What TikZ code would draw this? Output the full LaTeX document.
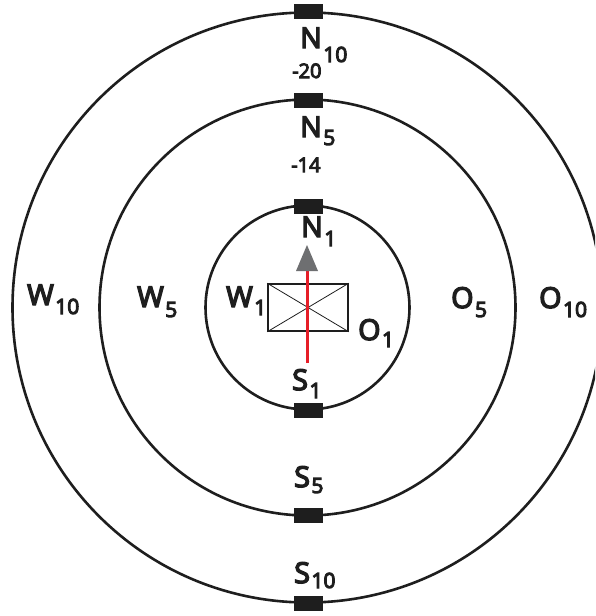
\documentclass[tikz,border=0pt]{standalone}
\usepackage{fontspec}
\setmainfont{Open Sans}
\newfontfamily\lblfont{Open Sans}[FakeBold=5]
\newcommand\lab[3]{#1\kern1.5pt\raisebox{-#3pt}{\fontsize{21}{21}\selectfont #2}}
\begin{document}
\begin{tikzpicture}[x=1pt,y=-1pt,
  ring/.style={draw={rgb,255:red,30;green,30;blue,30},line width=2.6pt},
  bar/.style={fill={rgb,255:red,30;green,30;blue,30},draw=none,minimum width=29pt,minimum height=15pt,inner sep=0pt},
  lbl/.style={anchor=base west,inner sep=0pt,text={rgb,255:red,30;green,30;blue,30},font=\lblfont\fontsize{28.7}{30}\selectfont},
  num/.style={anchor=base west,inner sep=0pt,text={rgb,255:red,30;green,30;blue,30},font=\lblfont\fontsize{20}{22}\selectfont}]
\useasboundingbox (0,0) rectangle (595,616);
\clip (0,0) rectangle (595,616);
\fill[white] (0,0) rectangle (595,616);
\coordinate (c) at (307.5,307.5);
\draw[ring] (c) circle[radius=295pt];
\draw[ring] (c) circle[radius=208pt];
\draw[ring] (c) circle[radius=102pt];
\node[bar] (b10n) at (308,11.5) {};
\node[bar] (b5n) at (308,100) {};
\node[bar] (b1n) at (308,206) {};
\node[bar] (b1s) at (308,410) {};
\node[bar] (b5s) at (308,515.5) {};
\node[bar] (b10s) at (308,603) {};
% box
\node[draw={rgb,255:red,30;green,30;blue,30},line width=1.6pt,minimum width=80pt,minimum height=47pt,inner sep=0pt] (box) at (308,307.5) {};
\draw[line width=0.8pt,draw={rgb,255:red,30;green,30;blue,30}] (box.north west) -- (box.south east) (box.north east) -- (box.south west);
% arrow
\coordinate (rs) at (307,363);
\coordinate (re) at (307,271);
\draw[line width=3pt,draw={rgb,255:red,230;green,30;blue,40}] (rs) -- (re);
\fill[fill={rgb,255:red,110;green,111;blue,113}] (307,245) -- (318,271) -- (296,271) -- cycle;
% labels
\node[lbl] (n10) at (300,48) {\lab{N}{10}{14}};
\node[num] (m20) at (292,78) {-20};
\node[lbl] (n5) at (300,137) {\lab{N}{5}{8}};
\node[num] (m14) at (291,172) {-14};
\node[lbl] (n1) at (301,237) {\lab{N}{1}{9}};
\node[lbl] (w10) at (27,305) {\lab{W}{10}{9}};
\node[lbl] (w5) at (137,307) {\lab{W}{5}{10}};
\node[lbl] (w1) at (226,307) {\lab{W}{1}{8}};
\node[lbl] (o5) at (451,308) {\lab{O}{5}{9}};
\node[lbl] (o10) at (539,308) {\lab{O}{10}{9}};
\node[lbl] (o1) at (358,340) {\lab{O}{1}{7}};
\node[lbl] (s1) at (292,390) {\lab{S}{1}{8}};
\node[lbl] (s5) at (294,487) {\lab{S}{5}{6}};
\node[lbl] (s10) at (294,583) {\lab{S}{10}{5}};
\end{tikzpicture}
\end{document}
